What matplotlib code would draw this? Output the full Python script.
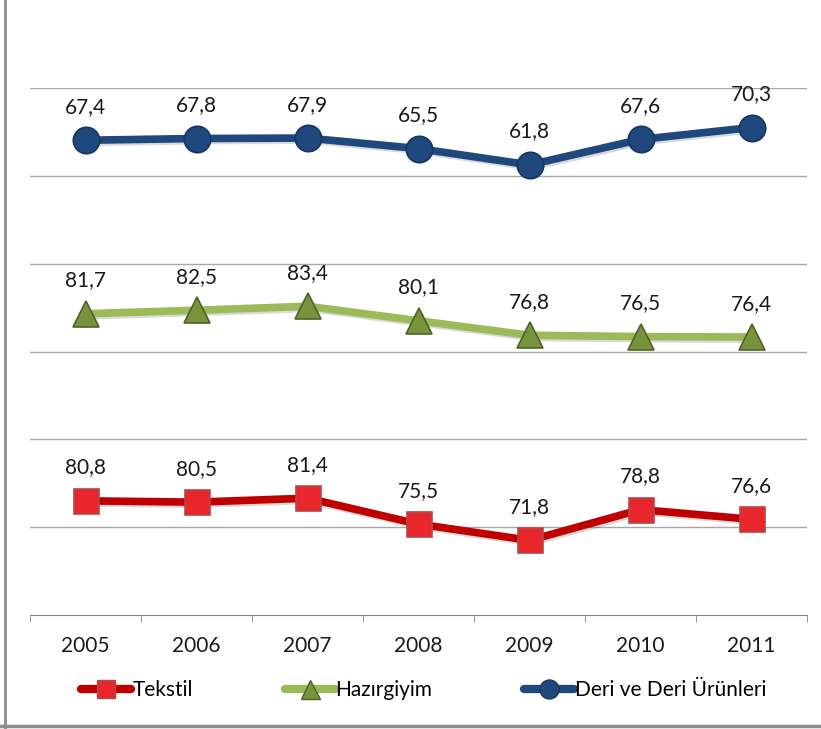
import matplotlib
matplotlib.use("Agg")
import matplotlib.pyplot as plt
from matplotlib.lines import Line2D
import matplotlib.patheffects as pe

years = ["2005", "2006", "2007", "2008", "2009", "2010", "2011"]
tekstil = [80.8, 80.5, 81.4, 75.5, 71.8, 78.8, 76.6]
hazirgiyim = [81.7, 82.5, 83.4, 80.1, 76.8, 76.5, 76.4]
deri = [67.4, 67.8, 67.9, 65.5, 61.8, 67.6, 70.3]

# vertical band offsets (each series drawn in its own band, axis values hidden)
offsets = {"Tekstil": 54.8, "Hazırgiyim": 13.1, "Deri ve Deri Ürünleri": -40.7}

plt.rcParams['font.family'] = ['Lato', 'DejaVu Sans']
FS = 15

fig = plt.figure(figsize=(8.21, 7.29), dpi=100)
ax = fig.add_axes([30/821, 1-615/729, 777/821, 527/729])

x = list(range(len(years)))

series = [
    ("Tekstil", tekstil, "#C00000", "s", 18, "#E8262B", "#B04848"),
    ("Hazırgiyim", hazirgiyim, "#9BBB59", "^", 19, "#77933C", "#4F6228"),
    ("Deri ve Deri Ürünleri", deri, "#1F497D", "o", 19, "#1F497D", "#17375E"),
]

handles = []
for name, vals, lc, mk, ms, mfc, mec in series:
    yv = [v - offsets[name] for v in vals]
    ax.plot(x, yv, color=lc, lw=5.5, solid_capstyle='round', zorder=3,
            path_effects=[pe.SimpleLineShadow(offset=(1.5, -1.5), alpha=0.15), pe.Normal()])
    ax.plot(x, yv, ls='none', marker=mk, ms=ms, mfc=mfc, mec=mec, mew=1.2, zorder=4)
    for xi, yi, v in zip(x, yv, vals):
        ax.annotate(f"{v:.1f}".replace(".", ","), (xi, yi), xytext=(0, 24),
                    textcoords='offset points', ha='center', va='center',
                    fontsize=FS, color='#1a1a1a', zorder=5)
    handles.append(Line2D([0], [0], color=lc, lw=6, solid_capstyle='round',
                          marker=mk, ms=ms*0.72, mfc=mfc, mec=mec, label=name))

ax.set_xlim(-0.5, 6.5)
ax.set_ylim(0, 120)
ax.set_yticks([20, 40, 60, 80, 100, 120])
ax.yaxis.grid(True, color='#A6A6A6', lw=1.0)
ax.set_axisbelow(True)
ax.tick_params(axis='y', length=0, labelleft=False)
for s in ['top', 'right', 'left']:
    ax.spines[s].set_visible(False)
ax.spines['bottom'].set_color('#868686')
ax.set_xticks(x)
ax.set_xticklabels(years, fontsize=FS, color='#1a1a1a')
ax.tick_params(axis='x', which='major', length=0, pad=15)
ax.set_xticks([i - 0.5 for i in range(len(years) + 1)], minor=True)
ax.tick_params(axis='x', which='minor', length=5, color='#868686', direction='out')

fig.legend(handles=handles, loc='center', bbox_to_anchor=(424/821, 1-690/729),
           ncol=3, frameon=False, fontsize=FS, handlelength=2.4,
           handletextpad=0.05, columnspacing=4.4)

# outer frame (left and bottom edges)
fig.add_artist(Line2D([5/821, 5/821], [0, 1], color='#8C8C8C', lw=2, transform=fig.transFigure))
fig.add_artist(Line2D([0, 1], [3/729, 3/729], color='#8C8C8C', lw=2.5, transform=fig.transFigure))

fig.savefig("out.png", dpi=100)
